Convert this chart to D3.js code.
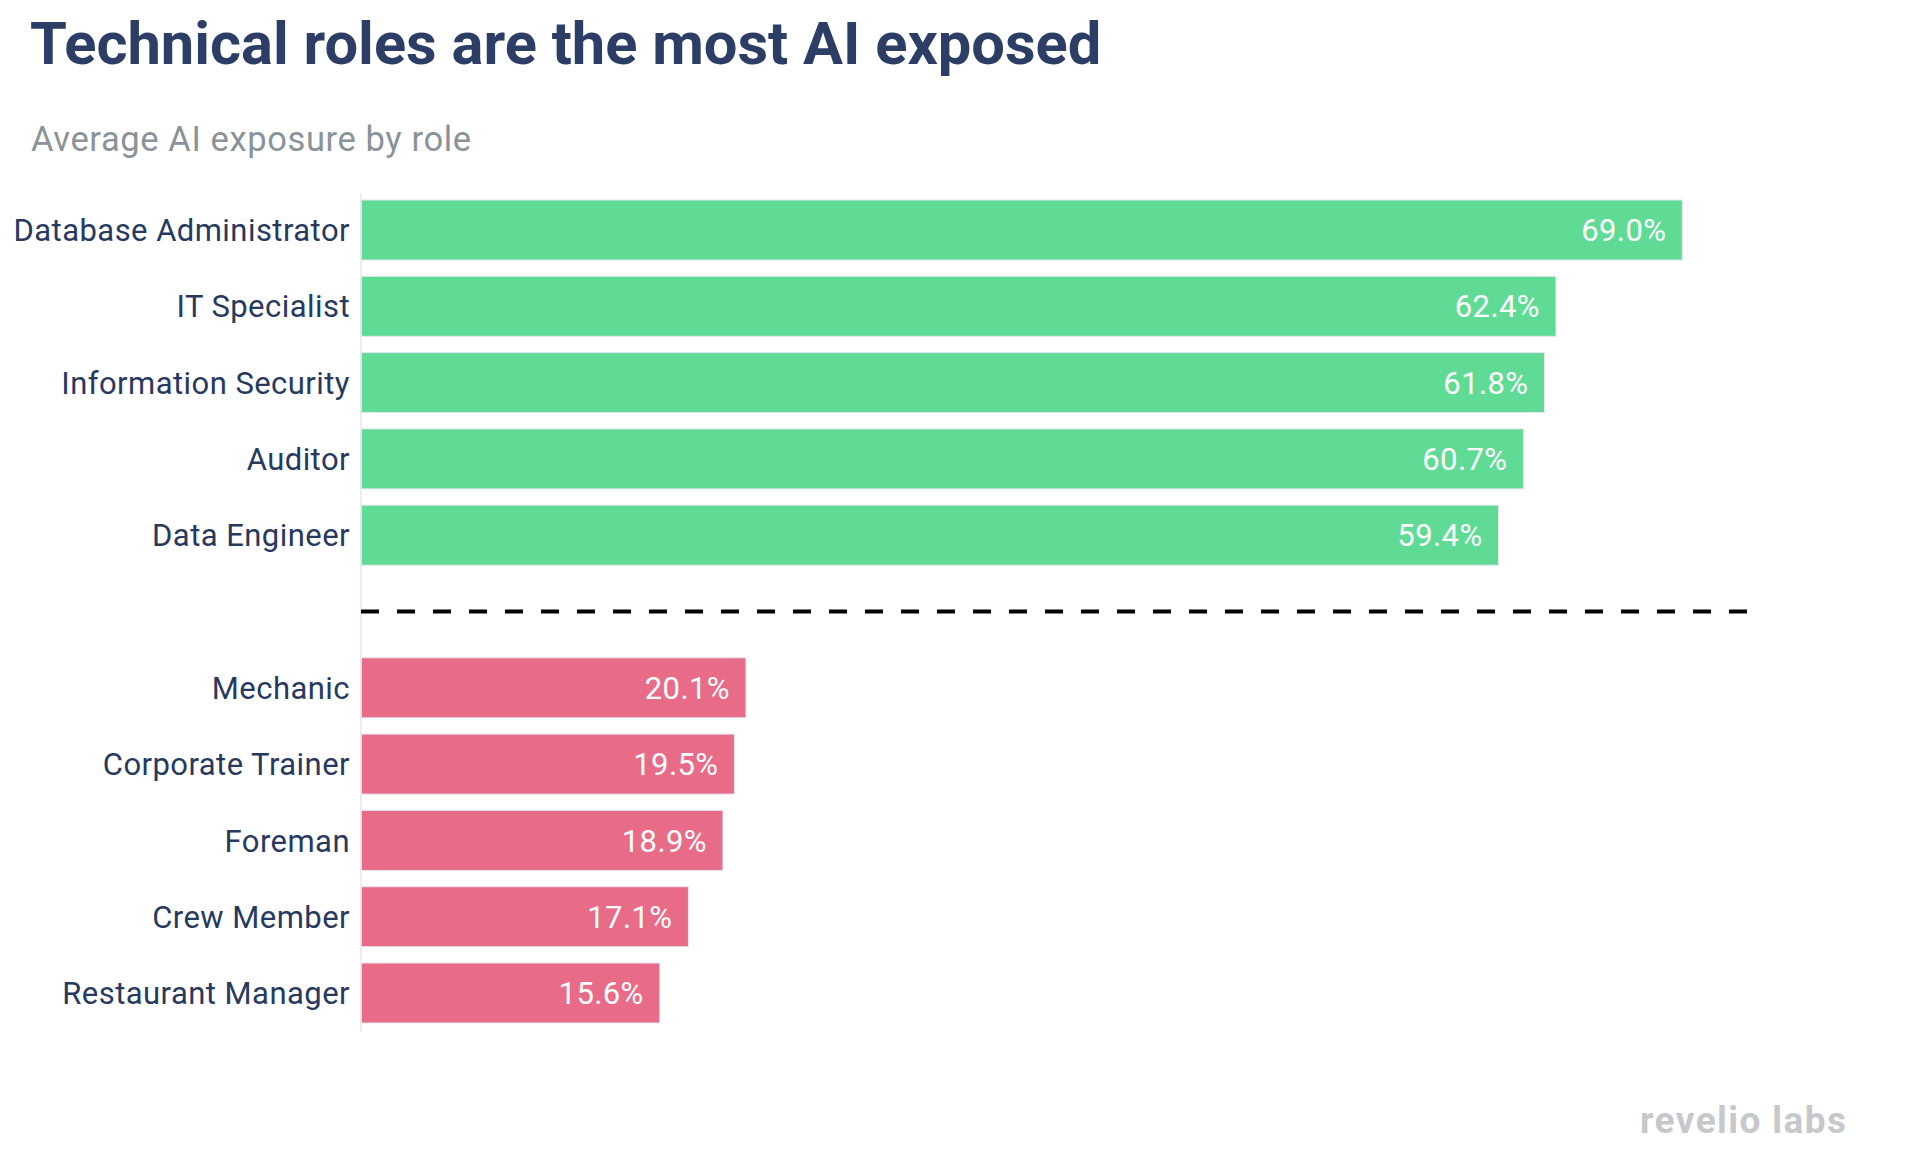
<!DOCTYPE html>
<html>
<head>
<meta charset="utf-8">
<script src="https://cdn.jsdelivr.net/npm/d3@7"></script>
<style>
  html, body { margin: 0; padding: 0; background: #ffffff; }
  svg { display: block; }
  text { font-family: Roboto, "Noto Sans", sans-serif; }
</style>
</head>
<body>
<svg id="chart" width="1932" height="1166"></svg>
<script>
// ---- data ----
const topRoles = ["Database Administrator", "IT Specialist", "Information Security", "Auditor", "Data Engineer"];
const topValues = [69.0, 62.4, 61.8, 60.7, 59.4];
const bottomRoles = ["Mechanic", "Corporate Trainer", "Foreman", "Crew Member", "Restaurant Manager"];
const bottomValues = [20.1, 19.5, 18.9, 17.1, 15.6];
const title = "Technical roles are the most AI exposed";
const subtitle = "Average AI exposure by role";
const dividerExtent = 72.4; // divider line extends to this value on the x scale

const GREEN = "#5fdb95";
const PINK = "#e86c87";

const rows = [
  ...topRoles.map((r, i) => ({ key: r, label: r, value: topValues[i], color: GREEN })),
  { key: "__divider__", label: "", value: null },
  ...bottomRoles.map((r, i) => ({ key: r, label: r, value: bottomValues[i], color: PINK }))
];

const svg = d3.select("#chart");

const x = d3.scaleLinear().domain([0, 70]).range([361, 361 + 70 * 19.15]);
const y = d3.scaleBand()
  .domain(rows.map(d => d.key))
  .range([200, 1023])
  .paddingInner(0.2136)
  .paddingOuter(0);

// Title & subtitle
svg.append("text")
  .attr("x", 30).attr("y", 64)
  .attr("font-size", 59.6).attr("font-weight", 700)
  .attr("fill", "#2c3e66")
  .text(title);

svg.append("text")
  .attr("x", 31).attr("y", 151)
  .attr("font-size", 34.5)
  .attr("fill", "#8a9399")
  .attr("textLength", 440)
  .attr("lengthAdjust", "spacing")
  .text(subtitle);

// Bars
const dataRows = rows.filter(d => d.value !== null);

svg.append("g").selectAll("rect")
  .data(dataRows)
  .join("rect")
  .attr("x", x(0))
  .attr("y", d => y(d.key))
  .attr("width", d => x(d.value) - x(0))
  .attr("height", y.bandwidth())
  .attr("fill", d => d.color)
  .attr("stroke", "#e4e6f0")
  .attr("stroke-width", 1);

// Axis line (vertical)
const yAxis = d3.axisLeft(y).tickSize(0).tickFormat(d => d === "__divider__" ? "" : d).tickPadding(11);
const axisG = svg.append("g")
  .attr("transform", `translate(${x(0)},0)`)
  .call(yAxis);
axisG.select(".domain")
  .attr("d", `M0,193V1032`)
  .attr("stroke", "#e6e7ee")
  .attr("stroke-width", 1.5);
axisG.selectAll(".tick text")
  .attr("font-size", 31)
  .attr("font-family", "Roboto, 'Noto Sans', sans-serif")
  .attr("letter-spacing", 0.45)
  .attr("fill", "#27395f")
  .attr("dy", "0.36em");

// Value labels
svg.append("g").selectAll("text")
  .data(dataRows)
  .join("text")
  .attr("x", d => x(d.value) - 16)
  .attr("y", d => y(d.key) + y.bandwidth() / 2)
  .attr("dy", "0.36em")
  .attr("text-anchor", "end")
  .attr("font-size", 31)
  .attr("letter-spacing", 0.4)
  .attr("fill", "#ffffff")
  .text(d => d.value.toFixed(1) + "%");

// Divider dashed line
const dy = y("__divider__") + y.bandwidth() / 2;
svg.append("line")
  .attr("x1", x(0)).attr("x2", x(dividerExtent))
  .attr("y1", dy).attr("y2", dy)
  .attr("stroke", "#000000")
  .attr("stroke-width", 4)
  .attr("stroke-dasharray", "18,18");

// Logo
svg.append("text")
  .attr("x", 1640).attr("y", 1133)
  .attr("font-size", 37).attr("font-weight", 700)
  .attr("fill", "#c6c8cb")
  .attr("textLength", 206)
  .attr("lengthAdjust", "spacing")
  .text("revelio labs");
</script>
</body>
</html>
